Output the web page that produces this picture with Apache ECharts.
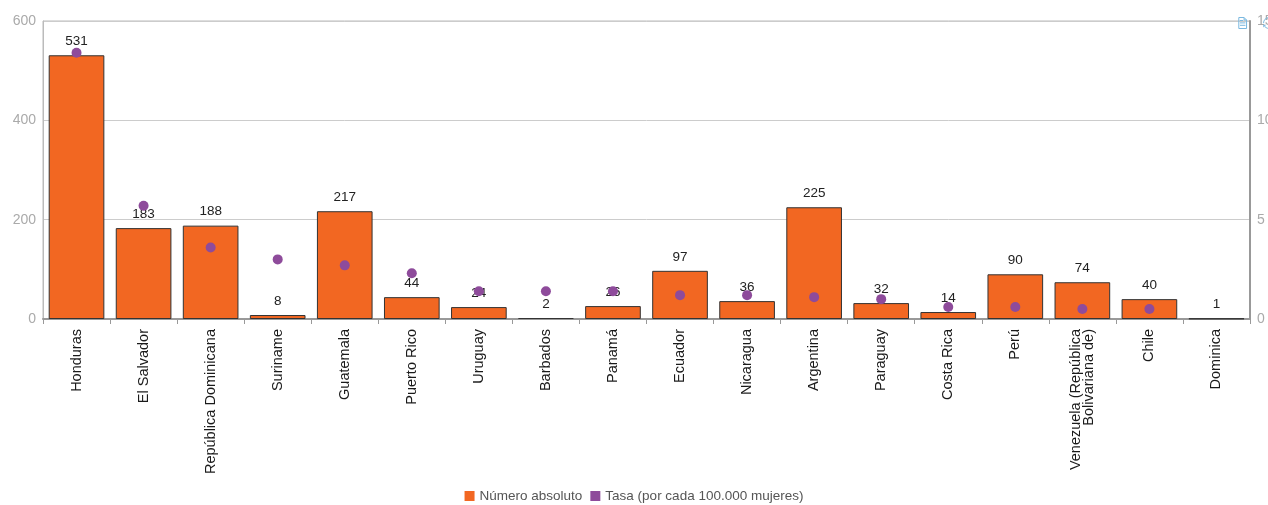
<!DOCTYPE html>
<html>
<head>
<meta charset="utf-8">
<script src="https://cdn.jsdelivr.net/npm/echarts@6/dist/echarts.min.js"></script>
<style>html,body{margin:0;padding:0;background:#fff;}#c{width:1268px;height:505px;}</style>
</head>
<body>
<div id="c"></div>
<script>
const categories = ["Honduras","El Salvador","República Dominicana","Suriname","Guatemala","Puerto Rico","Uruguay","Barbados","Panamá","Ecuador","Nicaragua","Argentina","Paraguay","Costa Rica","Perú","Venezuela (República\nBolivariana de)","Chile","Dominica"];
const absoluteValues = [531,183,188,8,217,44,24,2,26,97,36,225,32,14,90,74,40,1];
const rateValues = [13.4,5.7,3.6,3.0,2.7,2.3,1.4,1.4,1.4,1.2,1.2,1.1,1.0,0.6,0.6,0.5,0.5,null];
const leftTicks = [0,200,400,600];
const rightTicks = [0,5,10,15];

const chart = echarts.init(document.getElementById('c'));
chart.setOption({
  animation: false,
  textStyle: {fontFamily: 'Liberation Sans, Arial, sans-serif'},
  toolbox: {
    right: -24, top: 0, itemSize: 11, itemGap: 12,
    iconStyle: {borderColor: '#7ab8e0'},
    feature: {dataView: {show: true}, restore: {show: true}}
  },
  legend: {
    bottom: -3, left: 'center', itemWidth: 10, itemHeight: 10, itemGap: 8,
    icon: 'rect',
    itemStyle: {borderWidth: 0},
    textStyle: {color: '#555', fontSize: 13.5},
    data: ['Número absoluto', 'Tasa (por cada 100.000 mujeres)']
  },
  grid: {left: 43, right: 18, top: 21, bottom: 186, outerBoundsMode: 'none', show: true, borderColor: '#bbb', borderWidth: 1},
  xAxis: {
    type: 'category', data: categories,
    axisLine: {lineStyle: {color: '#999', width: 2}},
    axisTick: {show: true, length: 5, lineStyle: {color: '#999'}},
    axisLabel: {rotate: 90, color: '#1a1a1a', fontSize: 14.5, interval: 0, margin: 10, lineHeight: 13}
  },
  yAxis: [
    {type: 'value', min: leftTicks[0], max: leftTicks[leftTicks.length-1], interval: 200,
     axisLine: {show: true, lineStyle: {color: '#bbb'}},
     axisLabel: {color: '#aaa', fontSize: 14, margin: 7},
     splitLine: {lineStyle: {color: '#ccc'}}},
    {type: 'value', min: rightTicks[0], max: rightTicks[rightTicks.length-1], interval: 5,
     axisLine: {show: true, lineStyle: {color: '#999', width: 2}},
     axisLabel: {color: '#aaa', fontSize: 14, margin: 7},
     splitLine: {show: false}}
  ],
  series: [
    {name: 'Número absoluto', type: 'bar', data: absoluteValues, barCategoryGap: '17%',
     itemStyle: {color: '#F26722', borderColor: '#333', borderWidth: 1},
     label: {show: true, position: 'top', color: '#222', fontSize: 13.5, distance: 7}},
    {name: 'Tasa (por cada 100.000 mujeres)', type: 'scatter', yAxisIndex: 1, data: rateValues,
     symbolSize: 10, itemStyle: {color: '#8E4B9B', opacity: 1}, z: 5}
  ]
});
</script>
</body>
</html>
